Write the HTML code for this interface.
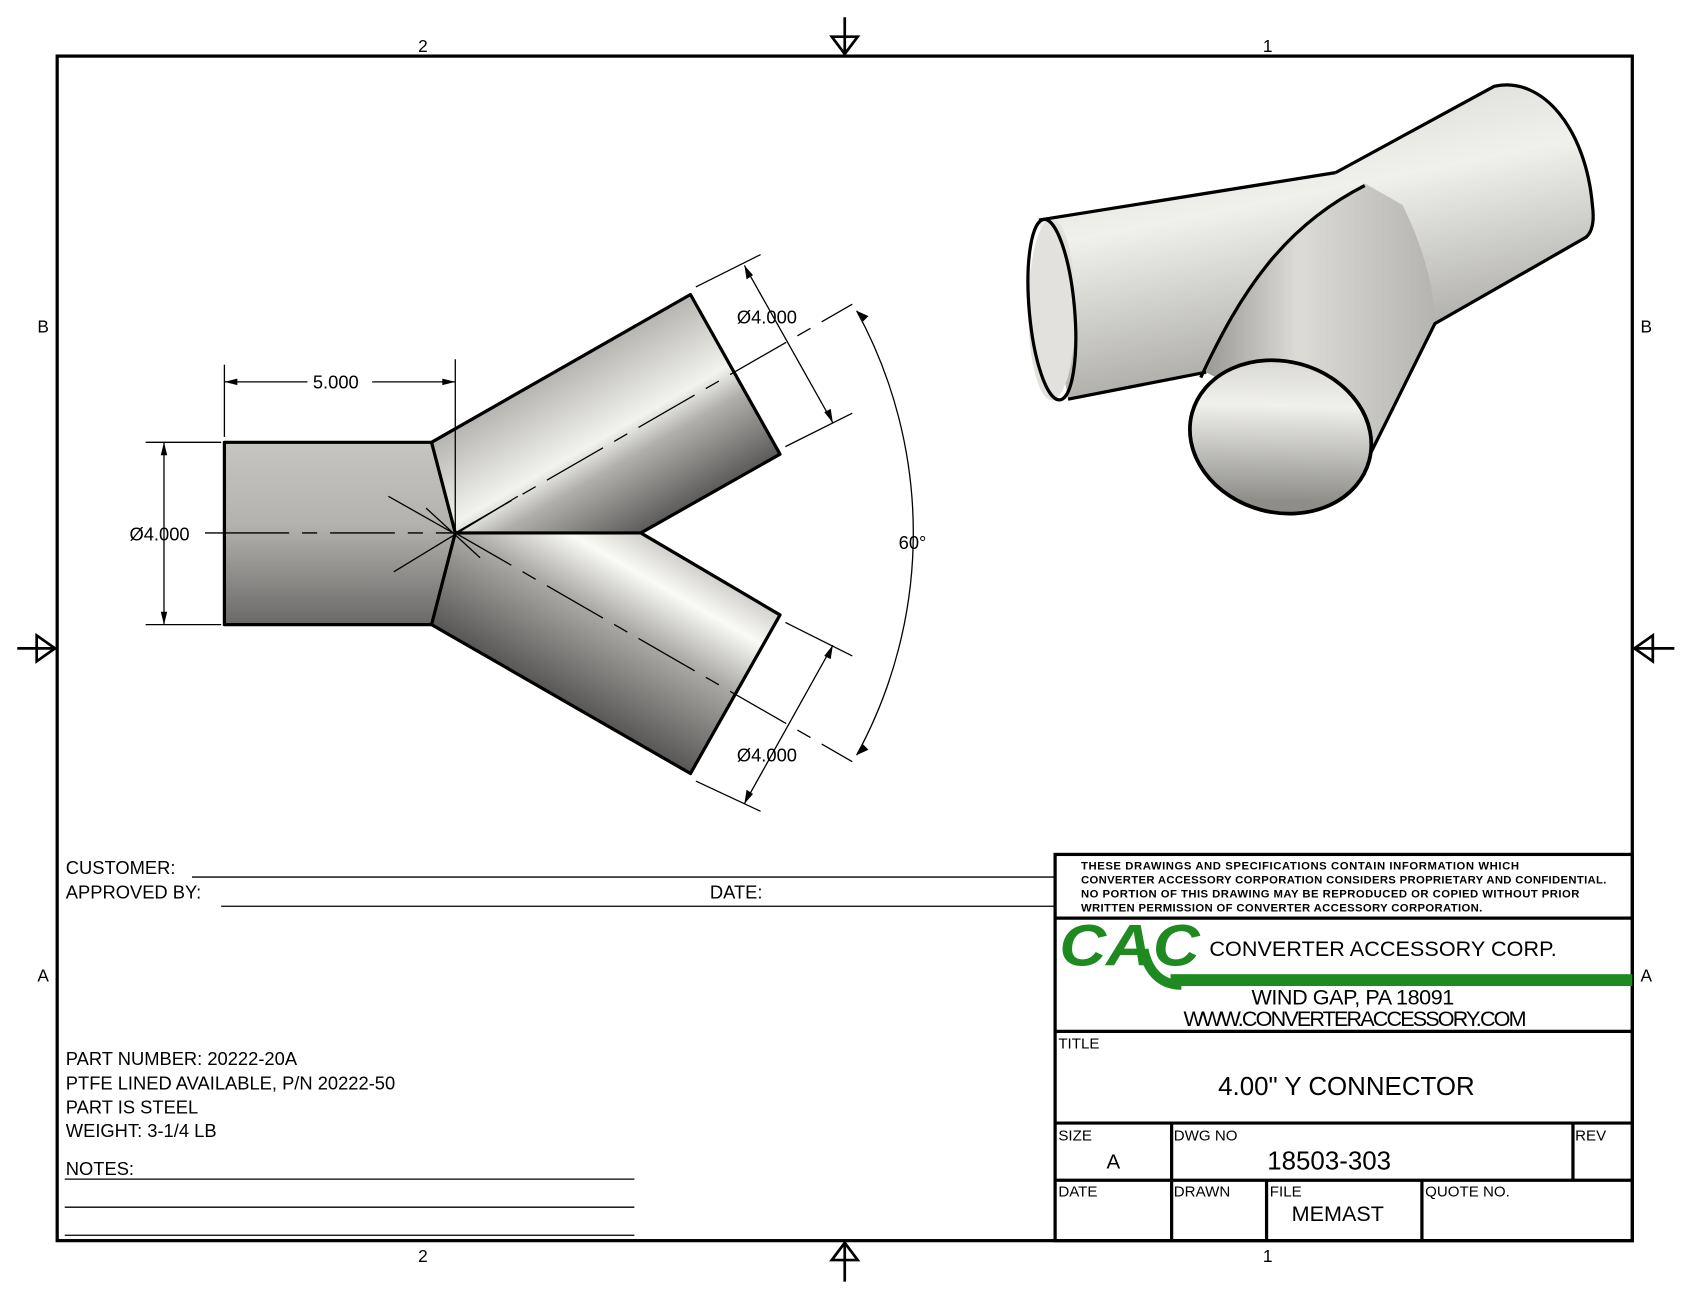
<!DOCTYPE html>
<html><head><meta charset="utf-8"><style>
html,body{margin:0;padding:0;background:#fff;}
svg{display:block;}
text{font-family:"Liberation Sans",Arial,sans-serif;}
</style></head><body>
<svg width="1683" height="1292" viewBox="0 0 1560 1197.6" preserveAspectRatio="none" xmlns="http://www.w3.org/2000/svg">
<defs>
<linearGradient id="gL" x1="0" y1="410" x2="0" y2="579" gradientUnits="userSpaceOnUse">
<stop offset="0" stop-color="#c6c5c1"/><stop offset="0.45" stop-color="#b3b2ae"/><stop offset="1" stop-color="#6a6968"/></linearGradient>
<linearGradient id="gU" x1="400" y1="410" x2="484" y2="556" gradientUnits="userSpaceOnUse">
<stop offset="0" stop-color="#b5b4b0"/><stop offset="0.45" stop-color="#f2f2ee"/><stop offset="0.62" stop-color="#b0afab"/><stop offset="1" stop-color="#5e5d5c"/></linearGradient>
<linearGradient id="gD" x1="594" y1="494" x2="510" y2="640" gradientUnits="userSpaceOnUse">
<stop offset="0" stop-color="#d0cfcb"/><stop offset="0.2" stop-color="#fafaf6"/><stop offset="0.5" stop-color="#aaa9a5"/><stop offset="1" stop-color="#5a5958"/></linearGradient>
<linearGradient id="gI" x1="0" y1="0" x2="0.3" y2="1">
<stop offset="0" stop-color="#cfceca"/><stop offset="0.4" stop-color="#f0f0ec"/><stop offset="1" stop-color="#8e8d8a"/></linearGradient>
<linearGradient id="gI2" x1="0" y1="0" x2="1" y2="0">
<stop offset="0" stop-color="#9a9995"/><stop offset="0.4" stop-color="#dcdbd7"/><stop offset="1" stop-color="#b5b4b0"/></linearGradient>
</defs>

<!-- border -->
<rect x="53" y="52" width="1460" height="1098" fill="none" stroke="#000" stroke-width="3"/>
<g font-size="16" text-anchor="middle">
<text x="392" y="48">2</text><text x="1175" y="48">1</text>
<text x="392" y="1170">2</text><text x="1175" y="1170">1</text>
<text x="40" y="308">B</text><text x="1526" y="308">B</text>
<text x="40" y="910">A</text><text x="1526" y="910">A</text>
</g>
<g stroke="#000" stroke-width="2.5" fill="none">
<line x1="783" y1="16" x2="783" y2="52"/><polygon points="771,34 795,34 783,50"/>
<line x1="783" y1="1150" x2="783" y2="1188"/><polygon points="771,1168 795,1168 783,1152"/>
<line x1="16" y1="601" x2="53" y2="601"/><polygon points="34,589 34,613 51,601"/>
<line x1="1513" y1="601" x2="1552" y2="601"/><polygon points="1532,589 1532,613 1515,601"/>
</g>

<!-- front view -->
<polygon points="208,410 400,410 422,494 400,579 208,579" fill="url(#gL)"/>
<polygon points="400,410 640,273 723,421 594,494 422,494" fill="url(#gU)"/>
<polygon points="422,494 594,494 723,570 640,717 400,579" fill="url(#gD)"/>
<g stroke="#000" stroke-width="3" fill="none" stroke-linejoin="round">
<path d="M400,410 L208,410 L208,579 L400,579"/>
<path d="M400,410 L640,273 L723,421 L594,494 L422,494"/>
<path d="M594,494 L723,570 L640,717 L400,579"/>
<path d="M400,410 L422,494 L400,579"/>
</g>
<g stroke="#000" stroke-width="1.2" fill="none" stroke-dasharray="60,12,14,12">
<line x1="208" y1="494" x2="422" y2="494"/>
<line x1="422" y1="494" x2="790" y2="282"/>
<line x1="422" y1="494" x2="790" y2="706"/>
</g>
<g stroke="#000" stroke-width="1.2">
<line x1="395" y1="471" x2="445" y2="517" /><line x1="365" y1="530" x2="480" y2="460"/>
<line x1="360" y1="460" x2="420" y2="494"/>
<line x1="208" y1="338" x2="208" y2="405"/><line x1="422" y1="333" x2="422" y2="494"/>
<line x1="208" y1="354" x2="285" y2="354"/><line x1="345" y1="354" x2="422" y2="354"/>
<line x1="135" y1="410" x2="205" y2="410"/><line x1="135" y1="579" x2="205" y2="579"/>
<line x1="152" y1="410" x2="152" y2="579"/><line x1="190" y1="494" x2="208" y2="494"/>
<line x1="645" y1="266" x2="705" y2="236"/><line x1="728" y1="414" x2="790" y2="383"/>
<line x1="690" y1="246" x2="772" y2="392"/>
<line x1="728" y1="577" x2="790" y2="608"/><line x1="645" y1="724" x2="705" y2="752"/>
<line x1="772" y1="598" x2="690" y2="745"/>
</g>
<path d="M794,288 A430,430 0 0 1 794,700" fill="none" stroke="#000" stroke-width="1.2"/>
<g fill="#000">
<polygon points="208,354 220,351 220,357"/><polygon points="422,354 410,351 410,357"/>
<polygon points="152,410 149,422 155,422"/><polygon points="152,579 149,567 155,567"/>
<polygon points="690,246 692,259 698,255"/><polygon points="772,392 764,382 770,379"/>
<polygon points="772,598 764,608 770,611"/><polygon points="690,745 692,732 698,736"/>
<polygon points="794,288 800,298 805,293"/><polygon points="794,700 800,690 805,695"/>
</g>
<g font-size="17">
<text x="290" y="360">5.000</text>
<text x="120" y="501">Ø4.000</text>
<text x="683" y="300">Ø4.000</text>
<text x="683" y="706">Ø4.000</text>
<text x="833" y="509">60°</text>
</g>

<!-- iso view -->
<path d="M963,204 L1238,160 L1385,80 C1430,70 1470,120 1476,190 C1478,205 1476,215 1470,220 L1330,300 L1268,425 L1118,345 L990,370 Z" fill="url(#gI)"/>
<path d="M1118,345 C1150,270 1190,210 1265,170 L1300,190 C1320,230 1330,270 1330,300 L1268,425 Z" fill="url(#gI2)"/>
<ellipse cx="975" cy="287" rx="22" ry="84" fill="#e2e1dd"/>
<g stroke="#000" stroke-width="3" fill="none">
<ellipse cx="975" cy="287" rx="21" ry="84" transform="rotate(-5 975 287)"/>
<line x1="963" y1="204" x2="1238" y2="160"/>
<line x1="990" y1="370" x2="1118" y2="345"/>
<path d="M1238,160 L1385,80 C1430,70 1470,120 1476,190 C1478,205 1476,215 1470,220 L1330,300 L1268,425"/>
<path d="M1113,350 C1150,270 1190,210 1265,172"/>
</g>
<ellipse cx="1187" cy="405" rx="85" ry="70" transform="rotate(15 1187 405)" fill="url(#gI)" stroke="#000" stroke-width="3.5"/>

<!-- customer -->
<g font-size="17">
<text x="61" y="810">CUSTOMER:</text>
<text x="61" y="833">APPROVED BY:</text>
<text x="658" y="833">DATE:</text>
<text x="61" y="987">PART NUMBER: 20222-20A</text>
<text x="61" y="1010">PTFE LINED AVAILABLE, P/N 20222-50</text>
<text x="61" y="1032">PART IS STEEL</text>
<text x="61" y="1054">WEIGHT:  3-1/4 LB</text>
<text x="61" y="1089">NOTES:</text>
</g>
<g stroke="#000" stroke-width="1.2">
<line x1="178" y1="813" x2="978" y2="813"/>
<line x1="205" y1="840" x2="978" y2="840"/>
<line x1="60" y1="1093" x2="588" y2="1093"/>
<line x1="60" y1="1119" x2="588" y2="1119"/>
<line x1="60" y1="1145" x2="588" y2="1145"/>
</g>

<!-- title block -->
<g stroke="#000" stroke-width="3" fill="none">
<rect x="978" y="792" width="535" height="358"/>
<line x1="978" y1="851" x2="1513" y2="851"/>
<line x1="978" y1="956" x2="1513" y2="956"/>
<line x1="978" y1="1041" x2="1513" y2="1041"/>
<line x1="978" y1="1094" x2="1513" y2="1094"/>
<line x1="1086" y1="1041" x2="1086" y2="1150"/>
<line x1="1458" y1="1041" x2="1458" y2="1094"/>
<line x1="1174" y1="1094" x2="1174" y2="1150"/>
<line x1="1318" y1="1094" x2="1318" y2="1150"/>
</g>
<g font-size="10.5" font-weight="bold" font-family="DejaVu Sans Condensed, Liberation Sans Narrow, sans-serif">
<text x="1002" y="806" textLength="406">THESE DRAWINGS AND SPECIFICATIONS CONTAIN INFORMATION WHICH</text>
<text x="1002" y="819" textLength="487">CONVERTER ACCESSORY CORPORATION CONSIDERS PROPRIETARY AND CONFIDENTIAL.</text>
<text x="1002" y="832" textLength="462">NO PORTION OF THIS DRAWING MAY BE REPRODUCED OR COPIED WITHOUT PRIOR</text>
<text x="1002" y="845" textLength="372">WRITTEN PERMISSION OF CONVERTER ACCESSORY CORPORATION.</text>
</g>
<text x="982" y="895" font-size="54" font-weight="bold" font-style="italic" fill="#1f8a1f" textLength="130" lengthAdjust="spacingAndGlyphs">CAC</text>
<rect x="1085" y="903" width="428" height="11" fill="#1f8a1f"/>
<path d="M1060,880 C1065,905 1080,913 1095,913" stroke="#1f8a1f" stroke-width="9" fill="none"/>
<g font-size="20" font-family="Liberation Sans Narrow, Liberation Sans, sans-serif">
<text x="1121" y="886" textLength="322">CONVERTER ACCESSORY CORP.</text>
<text x="1160" y="931" textLength="188">WIND GAP, PA 18091</text>
<text x="1097" y="951" textLength="318">WWW.CONVERTERACCESSORY.COM</text>
</g>
<g font-size="14" font-family="Liberation Sans Narrow, Liberation Sans, sans-serif">
<text x="981" y="972">TITLE</text>
<text x="981" y="1057">SIZE</text>
<text x="1088" y="1057">DWG NO</text>
<text x="1460" y="1057">REV</text>
<text x="981" y="1109">DATE</text>
<text x="1088" y="1109">DRAWN</text>
<text x="1177" y="1109">FILE</text>
<text x="1321" y="1109">QUOTE NO.</text>
</g>
<g font-size="24" text-anchor="middle">
<text x="1248" y="1015">4.00" Y CONNECTOR</text>
<text x="1232" y="1084">18503-303</text>
</g>
<text x="1032" y="1083" font-size="19" text-anchor="middle">A</text>
<text x="1240" y="1132" font-size="20" text-anchor="middle">MEMAST</text>
</svg>
</body></html>
